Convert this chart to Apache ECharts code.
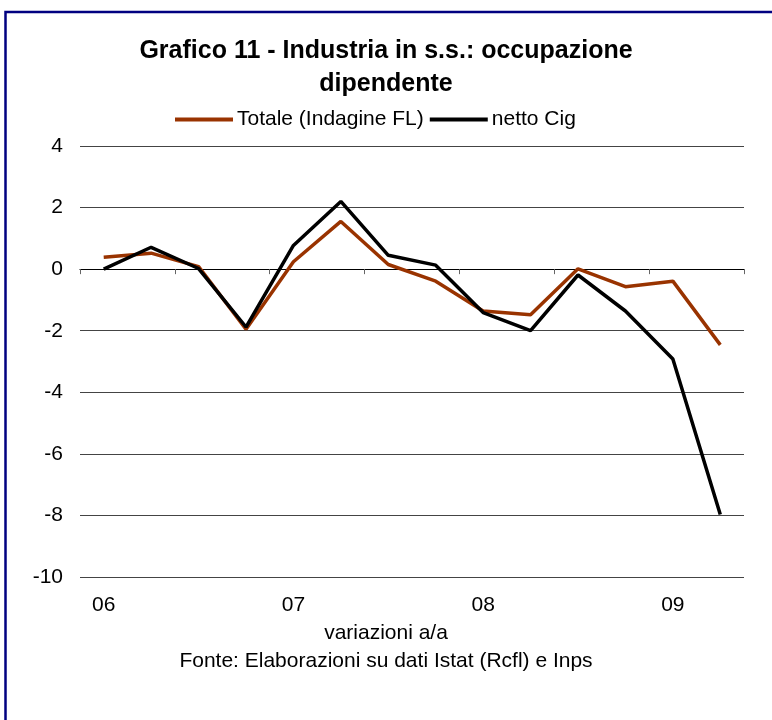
<!DOCTYPE html>
<html>
<head>
<meta charset="utf-8">
<script src="https://cdn.jsdelivr.net/npm/echarts@6/dist/echarts.min.js"></script>
<style>
html,body{margin:0;padding:0;background:#fff;}
#chart{width:772px;height:720px;}
</style>
</head>
<body>
<div id="chart"></div>
<script>
// Quarterly categories 2006 Q1 .. 2009 Q2
var quarters = ['2006-Q1','2006-Q2','2006-Q3','2006-Q4','2007-Q1','2007-Q2','2007-Q3','2007-Q4','2008-Q1','2008-Q2','2008-Q3','2008-Q4','2009-Q1','2009-Q2'];
// Year tick labels, shown at each Q1
var yearLabels = {'2006-Q1':'06','2007-Q1':'07','2008-Q1':'08','2009-Q1':'09'};
var totale = [0.39, 0.52, 0.08, -1.95, 0.24, 1.55, 0.15, -0.39, -1.36, -1.48, 0.01, -0.57, -0.39, -2.46];
var nettoCig = [0.0, 0.71, 0.02, -1.88, 0.77, 2.2, 0.45, 0.13, -1.41, -2.0, -0.19, -1.36, -2.92, -7.97];
var seriesNames = ['Totale (Indagine FL)', 'netto Cig'];
var yMin = -10, yMax = 4, yStep = 2;

var FONT = '"Liberation Sans", Arial, sans-serif';
var chart = echarts.init(document.getElementById('chart'), null, {renderer:'canvas'});
chart.setOption({
  animation: false,
  backgroundColor: '#ffffff',
  title: {
    text: 'Grafico 11 - Industria in s.s.: occupazione\ndipendente',
    left: 'center',
    top: 30,
    textStyle: {fontFamily: FONT, fontSize: 25, fontWeight: 'bold', color: '#000', lineHeight: 33}
  },
  legend: {
    left: 170,
    top: 104,
    icon: 'rect',
    itemWidth: 58,
    itemHeight: 4,
    itemGap: 6,
    textStyle: {fontFamily: FONT, fontSize: 21, color: '#000', padding: [0,0,0,-1]},
    data: seriesNames
  },
  grid: {left: 80, right: 28, top: 146, bottom: 143, containLabel: false},
  xAxis: [
    {
      type: 'category',
      data: quarters,
      position: 'bottom',
      boundaryGap: true,
      axisLine: {show: false, onZero: false},
      axisTick: {show: false},
      axisLabel: {
        interval: 0,
        margin: 18,
        fontFamily: FONT, fontSize: 21, color: '#000',
        formatter: function (v) { return yearLabels[v] || ''; }
      },
      splitLine: {show: false}
    },
    {
      type: 'category',
      data: quarters,
      position: 'top',
      boundaryGap: true,
      axisLine: {show: true, onZero: true, lineStyle: {color: '#000', width: 1.2}},
      axisTick: {show: true, inside: true, length: 5, lineStyle: {color: '#666', width: 1}},
      axisLabel: {show: false},
      splitLine: {show: false}
    }
  ],
  yAxis: {
    type: 'value',
    min: yMin, max: yMax, interval: yStep,
    axisLine: {show: false},
    axisTick: {show: false},
    axisLabel: {margin: 17, fontFamily: FONT, fontSize: 21, color: '#000'},
    splitLine: {show: true, lineStyle: {color: '#444', width: 1}}
  },
  graphic: [
    {
      type: 'rect',
      shape: {x: 5.5, y: 12, width: 800, height: 760},
      style: {fill: 'none', stroke: '#000080', lineWidth: 2.5},
      silent: true, z: 100
    },
    {
      type: 'text',
      left: 'center', top: 623,
      style: {text: 'variazioni a/a', font: '21px ' + FONT, fill: '#000', x: 4}
    },
    {
      type: 'text',
      left: 'center', top: 651,
      style: {text: 'Fonte: Elaborazioni su dati Istat (Rcfl) e Inps', font: '21px ' + FONT, fill: '#000'}
    }
  ],
  series: [
    {
      name: seriesNames[0],
      type: 'line',
      xAxisIndex: 0,
      data: totale,
      symbol: 'none',
      lineStyle: {color: '#993300', width: 3.5},
      itemStyle: {color: '#993300'},
      z: 2
    },
    {
      name: seriesNames[1],
      type: 'line',
      xAxisIndex: 0,
      data: nettoCig,
      symbol: 'none',
      lineStyle: {color: '#000000', width: 3.5},
      itemStyle: {color: '#000000'},
      z: 3
    }
  ]
});
</script>
</body>
</html>
